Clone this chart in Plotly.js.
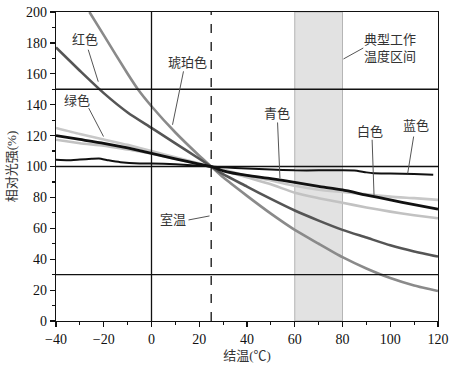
<!DOCTYPE html>
<html>
<head>
<meta charset="utf-8">
<script src="https://cdn.plot.ly/plotly-3.0.1.min.js"></script>
<style>html,body{margin:0;padding:0;background:#fff;}#chart{width:457px;height:366px;}</style>
</head>
<body>
<div id="chart"></div>
<script>
// Junction temperature (°C)
const blueX  = [-40,-35,-30,-25,-22,-18,-13,-5,0,10,20,25,30,40,50,60,70,80,85,90,93,100,110,118];
const blueY  = [104.3,104,104.5,105,105.2,104,102.8,102,102,101.5,100.5,100,99.5,98.7,98,97.5,97.5,97.5,97.4,96.2,95.7,95.5,95.2,94.6];

const tempX  = [-40,-30,-20,-10,0,10,20,25,30,40,50,60,70,80,90,100,110,120];
const cyanY  = [120,117.5,115,112,108.5,105,101.5,100,97.2,94.2,92.2,89.8,87.2,84.8,81.5,78.4,75.3,72.4];
const greenY = [124.9,121,117.5,114,110,106,102,100,98,94,91,87.5,85,83.5,82,80.5,79.5,78.4];
const whiteY = [117.3,115,113.5,111,108.5,105,101.5,100,97.5,93,88.5,83,79.5,76.5,73.5,70.8,68.5,66.5];
const redY   = [177,162,147.5,135,125,115,105,100,95,87,79,71.5,65,59,54,49,45,41.7];

const amberX = [-26,-20,-10,-5.7,0,10,20,25,30,40,50,60,70,80,90,100,110,120];
const amberY = [200,185,160,150,139,122,107,100,93,81,69.5,59,50,41.3,34,27.8,23,19.4];

const xTicks = [-40,-20,0,20,40,60,80,100,120];
const yTicks = [0,20,40,60,80,100,120,140,160,180,200];

const sp = 0.6;
const traces = [
  {x: tempX, y: whiteY, name:'白色', mode:'lines', line:{color:'#c2c2c2', width:2.6, shape:'spline', smoothing:sp}},
  {x: tempX, y: greenY, name:'绿色', mode:'lines', line:{color:'#c8c8c8', width:2.6, shape:'spline', smoothing:sp}},
  {x: amberX, y: amberY, name:'琥珀色', mode:'lines', line:{color:'#8a8a8a', width:2.6, shape:'spline', smoothing:sp}},
  {x: tempX, y: redY, name:'红色', mode:'lines', line:{color:'#555555', width:2.6, shape:'spline', smoothing:sp}},
  {x: tempX, y: cyanY, name:'青色', mode:'lines', line:{color:'#111111', width:2.8, shape:'spline', smoothing:sp}},
  {x: blueX, y: blueY, name:'蓝色', mode:'lines', line:{color:'#111111', width:2, shape:'spline', smoothing:0.4}}
];

const lbl = '#333';
const cjk = '"Liberation Serif", "Noto Sans CJK SC", serif';
function txt(x, y, t) {
  return {x:x, y:y, xref:'x', yref:'y', text:t, showarrow:false,
          font:{family:cjk, size:13, color:lbl}};
}
function ptr(x0, y0, x1, y1) {
  return {type:'line', xref:'x', yref:'y', x0:x0, y0:y0, x1:x1, y1:y1,
          line:{color:'#555', width:1}};
}
function hline(y) {
  return {type:'line', xref:'paper', yref:'y', x0:0, x1:1, y0:y, y1:y, line:{color:'#111', width:1.3}};
}

const layout = {
  width:457, height:366,
  margin:{l:56, r:19, t:12, b:45},
  paper_bgcolor:'#fff', plot_bgcolor:'#fff',
  showlegend:false,
  xaxis:{range:[-40,120], tickvals:xTicks, ticks:'outside', ticklen:5, tickwidth:1.2, tickcolor:'#111',
         minor:{dtick:10, ticks:'outside', ticklen:3, tickcolor:'#111'},
         showgrid:false, zeroline:false, showline:true, mirror:true, linecolor:'#111', linewidth:1.3,
         tickfont:{family:'"Liberation Serif", serif', size:14, color:'#111'},
         title:{text:'结温(℃)', font:{family:cjk, size:13, color:lbl}, standoff:4}},
  yaxis:{range:[0,200], tickvals:yTicks, ticks:'outside', ticklen:5, tickwidth:1.2, tickcolor:'#111',
         minor:{dtick:10, ticks:'outside', ticklen:3, tickcolor:'#111'},
         showgrid:false, zeroline:false, showline:true, mirror:true, linecolor:'#111', linewidth:1.3,
         tickfont:{family:'"Liberation Serif", serif', size:14, color:'#111'},
         title:{text:'相对光强(%)', font:{family:cjk, size:13, color:lbl}, standoff:6}},
  shapes:[
    {type:'rect', xref:'x', yref:'paper', x0:60, x1:80, y0:0, y1:1, fillcolor:'#e2e2e2',
     line:{color:'#b5b5b5', width:1}, layer:'below'},
    hline(150), hline(100), hline(30),
    {type:'line', xref:'x', yref:'paper', x0:0, x1:0, y0:0, y1:1, line:{color:'#111', width:1.3}},
    {type:'line', xref:'x', yref:'paper', x0:25, x1:25, y0:0, y1:1, line:{color:'#111', width:1.3, dash:'dash'}},
    ptr(-26.5,175.6,-22.3,154.9),
    ptr(13.4,161.6,8.8,127),
    ptr(-26.3,137.8,-20.1,119.4),
    ptr(88.7,176.7,80.4,169.6),
    ptr(52.8,128.5,53.8,92.5),
    ptr(92.4,117.3,93.2,81.6),
    ptr(109.8,119.4,107.3,95.5),
    ptr(15.5,65.4,24.3,68)
  ],
  annotations:[
    txt(-27.7,182,'红色'),
    txt(15.2,167.5,'琥珀色'),
    txt(-31,143,'绿色'),
    {x:100, y:176.5, xref:'x', yref:'y', text:'典型工作<br>温度区间', showarrow:false, align:'left',
     font:{family:cjk, size:13, color:lbl}},
    txt(52.5,134,'青色'),
    txt(91.5,122.7,'白色'),
    txt(110.8,126.7,'蓝色'),
    txt(9.2,66,'室温')
  ]
};

Plotly.newPlot('chart', traces, layout, {displayModeBar:false, staticPlot:true});
</script>
</body>
</html>
